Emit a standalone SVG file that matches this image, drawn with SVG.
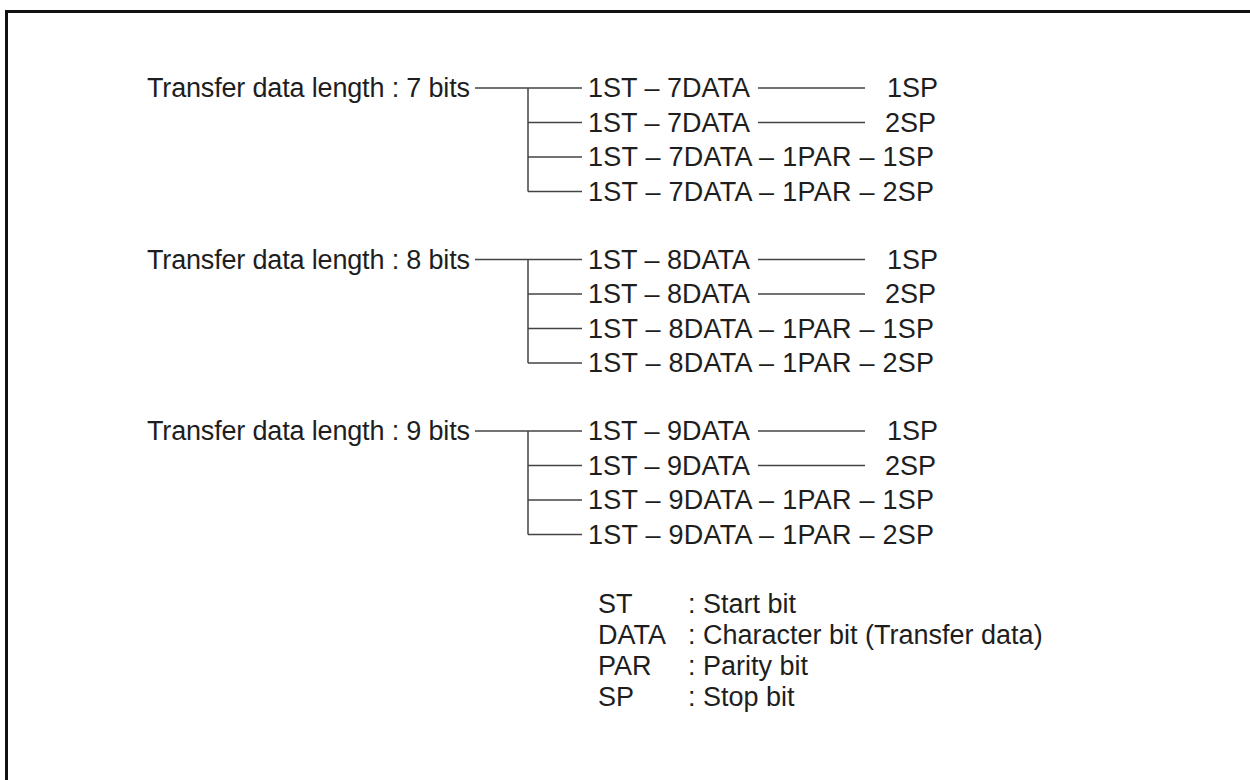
<svg xmlns="http://www.w3.org/2000/svg" width="1250" height="780" viewBox="0 0 1250 780">
<style>
text{font-family:"Liberation Sans",Arial,sans-serif;font-size:27px;fill:#1e1e1e}
.ln{stroke:#444;stroke-width:1.5;fill:none}
</style>
<rect width="1250" height="780" fill="#fff"/>
<path d="M6.5,780 V11.5 H1250" fill="none" stroke="#111" stroke-width="3"/>
<g id="connectors">
<path class="ln" d="M475,88 H582 M528,88 V191.5 M528,122.5 H582 M528,157 H582 M528,191.5 H582 M758,88 H865 M758,122.5 H865"/>
<path class="ln" d="M475,259.5 H582 M528,259.5 V363 M528,294 H582 M528,328.5 H582 M528,363 H582 M758,259.5 H865 M758,294 H865"/>
<path class="ln" d="M475,431 H582 M528,431 V534.5 M528,465.5 H582 M528,500 H582 M528,534.5 H582 M758,431 H865 M758,465.5 H865"/>
</g>
<g id="g7">
<text x="147" y="97.3" textLength="323">Transfer data length : 7 bits</text>
<text x="588" y="97.3">1ST – 7DATA</text><text x="887" y="97.3">1SP</text>
<text x="588" y="131.8">1ST – 7DATA</text><text x="885" y="131.8">2SP</text>
<text x="588" y="166.3" textLength="346">1ST – 7DATA – 1PAR – 1SP</text>
<text x="588" y="200.8" textLength="346">1ST – 7DATA – 1PAR – 2SP</text>
</g>
<g id="g8">
<text x="147" y="268.8" textLength="323">Transfer data length : 8 bits</text>
<text x="588" y="268.8">1ST – 8DATA</text><text x="887" y="268.8">1SP</text>
<text x="588" y="303.3">1ST – 8DATA</text><text x="885" y="303.3">2SP</text>
<text x="588" y="337.8" textLength="346">1ST – 8DATA – 1PAR – 1SP</text>
<text x="588" y="372.3" textLength="346">1ST – 8DATA – 1PAR – 2SP</text>
</g>
<g id="g9">
<text x="147" y="440.3" textLength="323">Transfer data length : 9 bits</text>
<text x="588" y="440.3">1ST – 9DATA</text><text x="887" y="440.3">1SP</text>
<text x="588" y="474.8">1ST – 9DATA</text><text x="885" y="474.8">2SP</text>
<text x="588" y="509.3" textLength="346">1ST – 9DATA – 1PAR – 1SP</text>
<text x="588" y="543.8" textLength="346">1ST – 9DATA – 1PAR – 2SP</text>
</g>
<g id="legend">
<text x="598" y="613">ST</text><text x="688" y="613">: Start bit</text>
<text x="598" y="644">DATA</text><text x="688" y="644">: Character bit (Transfer data)</text>
<text x="598" y="675">PAR</text><text x="688" y="675">: Parity bit</text>
<text x="598" y="706">SP</text><text x="688" y="706">: Stop bit</text>
</g>
</svg>
